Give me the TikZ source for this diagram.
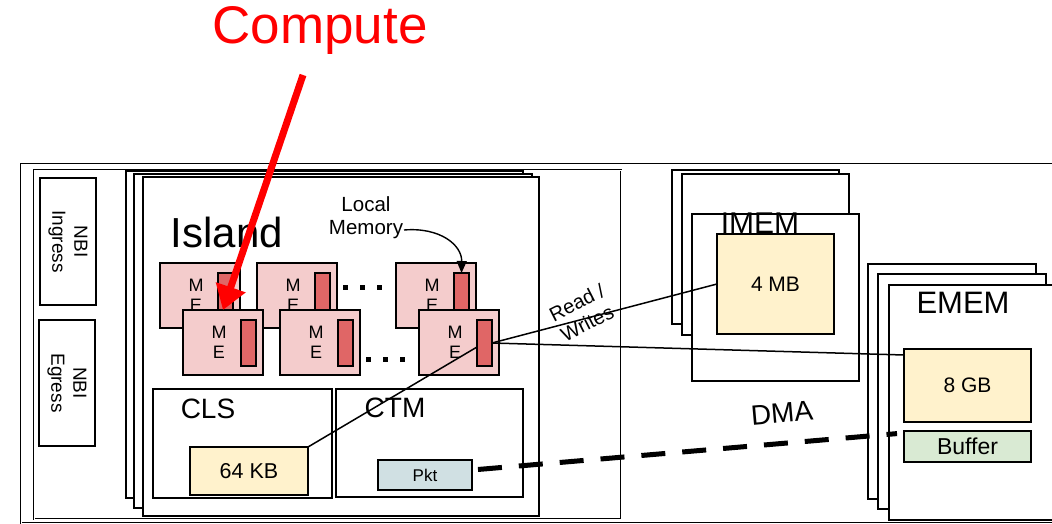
\documentclass[tikz,border=0pt]{standalone}
\usepackage{fontspec}
\setmainfont{Liberation Sans}
\usetikzlibrary{arrows.meta,calc}

\definecolor{mepink}{HTML}{F4CCCC}
\definecolor{mebar}{HTML}{E06666}
\definecolor{memyellow}{HTML}{FFF2CC}
\definecolor{pktblue}{HTML}{D0E0E3}
\definecolor{bufgreen}{HTML}{D9EAD3}

\tikzset{
  frame/.style={draw=black, line width=1.8pt, fill=white, outer sep=0pt, inner sep=0pt},
  dblframe/.style={draw=black, double, double distance=1pt, line width=0.9pt, outer sep=0pt, inner sep=0pt},
  mebox/.style={frame, fill=mepink},
  barbox/.style={frame, fill=mebar},
  membox/.style={frame, fill=memyellow},
  pktbox/.style={frame, fill=pktblue},
  bufbox/.style={frame, fill=bufgreen},
  txt/.style={inner sep=0pt, align=center},
  dot/.style={fill=black, inner sep=0pt, minimum size=5pt},
  wire/.style={draw=black, line width=1.5pt},
  dmaline/.style={draw=black, line width=5pt, dash pattern=on 24pt off 17pt},
}

% box as a node given its top-left and bottom-right corners
\newcommand\placebox[7]{%
  \node[#6, anchor=north west, minimum width={((#4)-(#2))*1pt}, minimum height={((#5)-(#3))*1pt}] (#1) at ({#2},{#3}) {#7};}

% micro-engine: pink box, local-memory bar and the "M E" label
\newcommand\mengine[3]{%
  \placebox{#1}{#2}{#3}{#2+80}{#3+65}{mebox}{}
  \placebox{#1bar}{#2+58}{#3+10}{#2+73}{#3+56}{barbox}{}
  \node[txt, font=\fontsize{18}{20}\selectfont] (#1t) at ({#2+36},{#3+32}) {M\\E};}

\begin{document}
\begin{tikzpicture}[x=1pt, y=-1pt]
\useasboundingbox (0,0) rectangle (1052,524);
\clip (0,0) rectangle (1052,524);

% chip outline and the block holding the NBIs and islands
\placebox{chip}{21}{164}{1080}{523}{dblframe}{}
\placebox{core}{34}{170}{621}{519}{dblframe}{}

\placebox{nbiin}{40}{178}{96}{305}{frame}{}
\node[txt, rotate=-90, font=\fontsize{19}{22}\selectfont] (nbiinlbl) at (nbiin) {NBI\\Ingress};
\placebox{nbieg}{39}{320}{95}{446}{frame}{}
\node[txt, rotate=-90, font=\fontsize{19}{22}\selectfont] (nbieglbl) at (nbieg) {NBI\\Egress};

% stacked islands
\placebox{isl1}{126}{171}{523}{498}{frame}{}
\placebox{isl2}{134}{174}{532}{508}{frame}{}
\placebox{isl3}{143}{177}{539}{516}{frame}{}
\node[txt, font=\fontsize{42}{50}\selectfont] (islandlbl) at (227,232) {Island};
\node[txt, font=\fontsize{20.5}{23}\selectfont] (lm) at (366,218) {Local\\Memory};

% micro-engines, back row then front row
\mengine{me1}{160}{263}
\mengine{me2}{257}{263}
\mengine{me3}{396}{263}
\node[dot] (d1) at (345,287) {};
\node[dot] (d2) at (362,287) {};
\node[dot] (d3) at (379,287) {};
\mengine{me4}{183}{310}
\mengine{me5}{280}{310}
\mengine{me6}{419}{310}
\node[dot] (d4) at (368,359) {};
\node[dot] (d5) at (385,359) {};
\node[dot] (d6) at (402,359) {};

% cluster local scratch and cluster target memory
\placebox{cls}{153}{389}{332}{498}{frame}{}
\node[txt, font=\fontsize{28}{32}\selectfont] (clslbl) at (208,409) {CLS};
\placebox{kb64}{190}{447}{308}{495}{membox}{\fontsize{21.5}{24}\selectfont 64 KB}
\placebox{ctm}{336}{389}{523}{497}{frame}{}
\node[txt, font=\fontsize{28}{32}\selectfont] (ctmlbl) at (395,408) {CTM};
\placebox{pkt}{378}{460}{472}{490}{pktbox}{\fontsize{17}{20}\selectfont Pkt}

% internal memory
\placebox{imem1}{672}{170}{839}{324}{frame}{}
\placebox{imem2}{682}{174}{849}{335}{frame}{}
\placebox{imem3}{692}{214}{859}{381}{frame}{}
\node[txt, font=\fontsize{30}{34}\selectfont] (imemlbl) at (760,223) {IMEM};
\placebox{mb4}{717}{234}{834}{334}{membox}{\fontsize{21}{24}\selectfont 4 MB}

% external memory
\placebox{emem1}{868}{264}{1036}{499}{frame}{}
\placebox{emem2}{878}{274}{1046}{509}{frame}{}
\placebox{emem3}{889}{285}{1080}{520}{frame}{}
\node[txt, font=\fontsize{31}{35}\selectfont] (ememlbl) at (963,303) {EMEM};
\placebox{gb8}{904}{349}{1031}{422}{membox}{\fontsize{21}{24}\selectfont 8 GB}
\placebox{buf}{904}{431}{1031}{462}{bufbox}{\fontsize{23}{26}\selectfont Buffer}

\node[txt, rotate=5, font=\fontsize{28}{32}\selectfont] (dmalbl) at (782,413) {DMA};
\node[txt, rotate=27, font=\fontsize{20}{23}\selectfont] (rwlbl) at (582,313) {Read /\\Writes};

% memory accesses from the micro-engine
\draw[wire] (me6bar.east) -- (mb4.west);
\draw[wire] (me6bar.east) -- ($(gb8.north west)+(0,6)$);
\draw[wire] ($(me6bar.west)+(0,4)$) -- (kb64.north east);

% DMA transfer of the packet into the buffer
\draw[dmaline, shorten <=6pt, shorten >=7pt] ($(pkt.east)+(0,-5)$) -- ($(buf.north west)+(0,2)$);

% local memory callout
\coordinate (lmfrom) at (404,230);
\draw[line width=1.4pt, -{Triangle[length=12pt,width=10pt]}] (lmfrom) .. controls (440,227) and (462,245) .. (me3bar.north);

% compute callout
\node[txt, text=red, font=\fontsize{53}{60}\selectfont] (compute) at (320,30) {Compute};
\coordinate (cfrom) at (303,75);
\draw[red, line width=7pt, -{Triangle[length=24pt,width=30pt]}] (cfrom) -- (me4.north);
\end{tikzpicture}
\end{document}
